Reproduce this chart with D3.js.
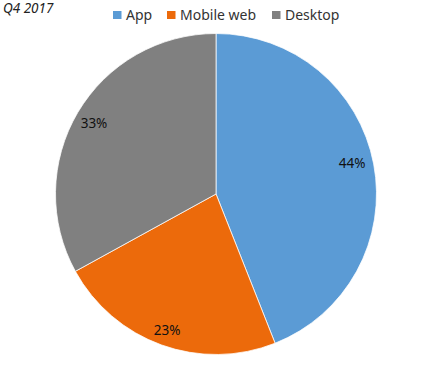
<!DOCTYPE html>
<html>
<head>
<meta charset="utf-8">
<script src="https://cdn.jsdelivr.net/npm/d3@7"></script>
<style>
  body { margin: 0; background: #fff; }
  svg { display: block; font-family: "Noto Sans", "Open Sans", sans-serif; }
</style>
</head>
<body>
<div id="chart"></div>
<script>
// chart data
var categories = ["App", "Mobile web", "Desktop"];
var shares = [44, 23, 33];
var colours = ["#5B9BD5", "#EC6A0B", "#808080"];
var title = "Q4 2017";

var width = 432, height = 373;
var cx = 216, cy = 194, radius = 160.5;

var svg = d3.select("#chart")
  .append("svg")
    .attr("width", width)
    .attr("height", height);

svg.append("text")
    .attr("x", 3)
    .attr("y", 13)
    .attr("font-size", 13.5)
    .attr("font-style", "italic")
    .attr("fill", "#222")
    .text(title);

//----------------------------------------------------------
// legend
var colour = d3.scaleOrdinal(categories, colours);
var legendX = [113, 167, 272];

var legend = svg.append("g")
  .selectAll("g")
  .data(categories)
  .join("g")
    .attr("transform", function (d, i) {
        return "translate(" + legendX[i] + ",11)";
    });

legend.append("rect")
    .attr("width", 8.5)
    .attr("height", 8)
    .attr("fill", function (d) { return colour(d); });

legend.append("text")
    .attr("x", 13)
    .attr("y", 9)
    .attr("font-size", 14)
    .attr("fill", "#333")
    .text(function (d) { return d; });

//----------------------------------------------------------
// pie
var pie = d3.pie().sort(null).value(function (d) { return d; });
var arcs = pie(shares);

var arc = d3.arc().innerRadius(0).outerRadius(radius);
var labelArc = d3.arc().innerRadius(140).outerRadius(140);

// small vertical nudges, like the "best fit" label placement
var labelDy = [-5, 4, 0];

var g = svg.append("g")
    .attr("transform", "translate(" + cx + "," + cy + ")");

g.selectAll("path")
  .data(arcs)
  .join("path")
    .attr("d", arc)
    .attr("fill", function (d, i) { return colour(categories[i]); })
    .attr("stroke", "#fff")
    .attr("stroke-width", 0.75);

g.selectAll("text")
  .data(arcs)
  .join("text")
    .attr("transform", function (d, i) {
        var c = labelArc.centroid(d);
        return "translate(" + (c[0] - 1.5) + "," + (c[1] + labelDy[i]) + ")";
    })
    .attr("text-anchor", "middle")
    .attr("dominant-baseline", "central")
    .attr("font-size", 13.5)
    .attr("fill", "#111")
    .text(function (d) { return d.data + "%"; });
</script>
</body>
</html>
